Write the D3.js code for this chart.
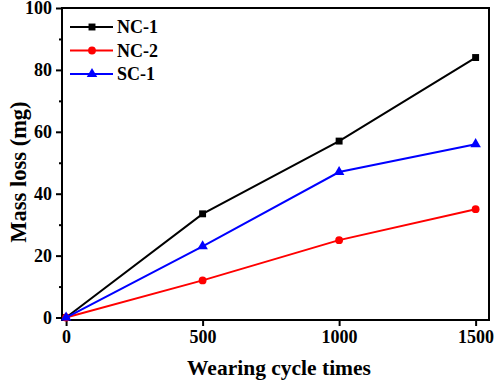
<!DOCTYPE html>
<html>
<head>
<meta charset="utf-8">
<script src="https://cdn.jsdelivr.net/npm/d3@7"></script>
<style>
  body { margin: 0; background: #fff; }
  text { font-family: "Liberation Serif", "Times New Roman", serif; font-weight: bold; }
</style>
</head>
<body>
<svg id="chart" width="500" height="380"></svg>
<script>
// data
const cycles = [0, 500, 1000, 1500];
const nc1 = [0, 33.5, 57, 84];
const nc2 = [0, 12, 25, 35];
const sc1 = [0, 23, 47, 56];
const xTicks = [0, 500, 1000, 1500];
const yTicks = [0, 20, 40, 60, 80, 100];

const series = [
  { name: 'NC-1', values: nc1, color: '#000000', symbol: d3.symbolSquare },
  { name: 'NC-2', values: nc2, color: '#ff0000', symbol: d3.symbolCircle },
  { name: 'SC-1', values: sc1, color: '#0000ff', symbol: d3.symbolTriangle },
];

const plotL = 62, plotR = 489, plotT = 8, plotB = 320;

const x = d3.scaleLinear().domain([-15, 1549]).range([plotL, plotR]);
const y = d3.scaleLinear().domain([-0.8, 100]).range([plotB, plotT]);

const svg = d3.select('#chart');

// frame
svg.append('rect')
  .attr('x', plotL).attr('y', plotT)
  .attr('width', plotR - plotL).attr('height', plotB - plotT)
  .attr('fill', 'none').attr('stroke', '#000').attr('stroke-width', 2);

// y axis, minor then major ticks
const yMin = svg.append('g').attr('transform', `translate(${plotL},0)`)
  .call(d3.axisLeft(y).tickValues(d3.range(10, 100, 20)).tickSize(3).tickFormat(''));
yMin.select('.domain').remove();
const yMaj = svg.append('g').attr('transform', `translate(${plotL},0)`)
  .call(d3.axisLeft(y).tickValues(yTicks).tickSize(6).tickPadding(4));
yMaj.select('.domain').remove();
yMaj.selectAll('text').attr('font-size', 18).attr('fill', '#000');

// x axis
const xAx = svg.append('g').attr('transform', `translate(0,${plotB})`)
  .call(d3.axisBottom(x).tickValues(xTicks).tickSize(6).tickPadding(4).tickFormat(d3.format('d')));
xAx.select('.domain').remove();
xAx.selectAll('text').attr('font-size', 18).attr('fill', '#000');
svg.selectAll('.tick line').attr('stroke-width', 2);

// lines and markers
const line = d3.line().x((d, i) => x(cycles[i])).y(d => y(d));

series.forEach(s => {
  svg.append('path')
    .attr('d', line(s.values))
    .attr('fill', 'none')
    .attr('stroke', s.color)
    .attr('stroke-width', 2);
  svg.selectAll(null).data(s.values).join('path')
    .attr('transform', (d, i) => `translate(${x(cycles[i])},${y(d)})`)
    .attr('d', d3.symbol().type(s.symbol).size(48))
    .attr('fill', s.color);
});

// legend
const legend = svg.append('g');
series.forEach((s, i) => {
  const ly = 27 + i * 23.5;
  legend.append('line')
    .attr('x1', 70).attr('x2', 113).attr('y1', ly).attr('y2', ly)
    .attr('stroke', s.color).attr('stroke-width', 2);
  legend.append('path')
    .attr('transform', `translate(92,${ly})`)
    .attr('d', d3.symbol().type(s.symbol).size(48))
    .attr('fill', s.color);
  legend.append('text')
    .attr('x', 117).attr('y', ly + 6)
    .attr('font-size', 18)
    .text(s.name);
});

// axis titles
svg.append('text')
  .attr('x', 279).attr('y', 375)
  .attr('text-anchor', 'middle')
  .attr('font-size', 21.5)
  .text('Wearing cycle times');

svg.append('text')
  .attr('transform', 'translate(26,172) rotate(-90)')
  .attr('text-anchor', 'middle')
  .attr('font-size', 22.5)
  .text('Mass loss (mg)');
</script>
</body>
</html>
